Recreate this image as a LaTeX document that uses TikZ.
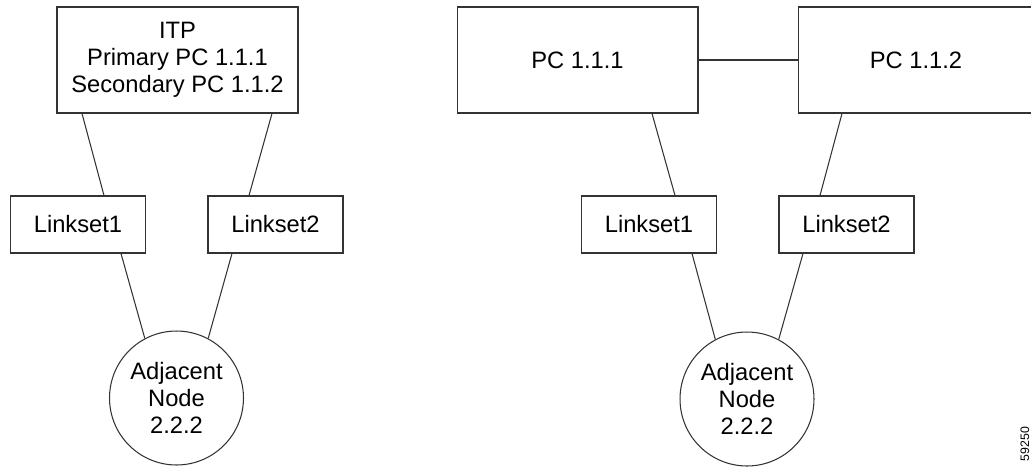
\documentclass[tikz,border=0pt]{standalone}
\usepackage{fontspec}
\setmainfont{Liberation Sans}
\usetikzlibrary{calc}
\tikzset{
  bigbox/.style={draw=black!80, line width=0.6pt, rectangle, inner sep=0pt,
    minimum width=4.82cm, minimum height=2.12cm, align=center,
    font=\fontsize{13.5}{15.3}\selectfont},
  linkbox/.style={draw=black!80, line width=0.6pt, rectangle, inner sep=0pt,
    minimum width=2.7cm, minimum height=1.14cm,
    font=\fontsize{13.5}{15.3}\selectfont},
  adjnode/.style={draw=black!80, line width=0.6pt, circle, inner sep=0pt,
    minimum size=2.68cm, align=center,
    font=\fontsize{13.5}{15.3}\selectfont},
  link/.style={draw=black!80, line width=0.6pt}
}
\begin{document}
\begin{tikzpicture}[x=0.02cm, y=-0.02cm]
    \useasboundingbox (0,0) rectangle (1031,467);
    % left side: one ITP node
    \node[bigbox] (itp) at (177.5,60) {ITP\\Primary PC 1.1.1\\Secondary PC 1.1.2};
    \node[linkbox] (lsa) at (78,224.5) {Linkset1};
    \node[linkbox] (lsb) at (275.5,224.5) {Linkset2};
    \node[adjnode] (adja) at (176.5,398) {Adjacent\\Node\\2.2.2};

    \draw[link] ($(itp.south)+(-95.5,0)$) -- ($(lsa.north)+(26,0)$);
    \draw[link] ($(itp.south)+(94.5,0)$) -- ($(lsb.north)+(-26.5,0)$);
    \draw[link] ($(lsa.south)+(43,0)$) -- (adja.118);
    \draw[link] ($(lsb.south)+(-43.5,0)$) -- (adja.62);

    % right side: two PCs
    \node[bigbox] (pca) at (577.5,60) {PC 1.1.1};
    \node[bigbox, minimum width=4.72cm] (pcb) at (916,60) {PC 1.1.2};
    \node[linkbox] (lsc) at (649,224.5) {Linkset1};
    \node[linkbox] (lsd) at (846.5,224.5) {Linkset2};
    \node[adjnode] (adjb) at (747,399) {Adjacent\\Node\\2.2.2};

    \draw[link] (pca.east) -- (pcb.west);
    \draw[link] ($(pca.south)+(74.5,0)$) -- ($(lsc.north)+(26,0)$);
    \draw[link] ($(pcb.south)+(-74,0)$) -- ($(lsd.north)+(-26.5,0)$);
    \draw[link] ($(lsc.south)+(43,0)$) -- (adjb.118);
    \draw[link] ($(lsd.south)+(-43.5,0)$) -- (adjb.62);

    \node[rotate=90, inner sep=0pt, font=\fontsize{7}{8}\selectfont] (figno) at (1025,444) {59250};
\end{tikzpicture}
\end{document}
